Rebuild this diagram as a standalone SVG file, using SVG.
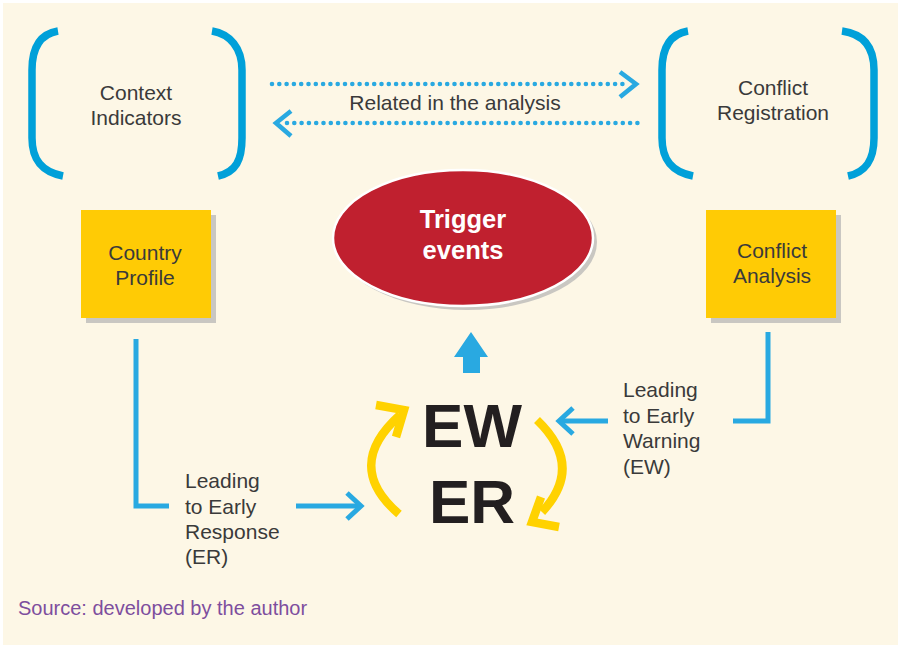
<svg xmlns="http://www.w3.org/2000/svg" width="901" height="648" viewBox="0 0 901 648">
<defs>
<style>
.lbl{font-family:"Liberation Sans",Arial,sans-serif;font-size:21px;fill:#3a3a3a;}
.ctr{text-anchor:middle;}
.brk{fill:none;stroke:#00a0d9;stroke-width:7.5;stroke-linecap:butt;}
.dot{fill:none;stroke:#29a9e1;stroke-width:4.6;stroke-linecap:round;stroke-dasharray:0 7.3;}
.chev{fill:none;stroke:#29a9e1;stroke-width:4.6;stroke-linecap:butt;stroke-linejoin:miter;}
.con{fill:none;stroke:#29a9e1;stroke-width:5;stroke-linecap:butt;stroke-linejoin:miter;}
.box{fill:#ffcb05;}
.shd{fill:#c9c7c2;}
.arc{fill:none;stroke:#ffd200;stroke-width:8.5;stroke-linecap:butt;stroke-linejoin:miter;}
.big{font-family:"Liberation Sans",Arial,sans-serif;font-weight:bold;font-size:62px;fill:#231f20;text-anchor:middle;}
</style>
</defs>
<rect x="0" y="0" width="901" height="648" fill="#ffffff"/>
<rect x="3" y="3" width="895" height="642" fill="#fdf7e6"/>

<g id="context-indicators">
<path class="brk" d="M58,31 C40,34 32,48 32,70 L32,138 C32,160 42,172 63,176"/>
<path class="brk" d="M212,31 C230,34 242,48 242,70 L242,138 C242,160 236,172 218,176"/>
<text class="lbl ctr" x="136" y="100">Context</text>
<text class="lbl ctr" x="136" y="125">Indicators</text>
</g>

<g id="conflict-registration">
<path class="brk" d="M688,31 C670,34 662,48 662,70 L662,138 C662,160 672,172 693,176"/>
<path class="brk" d="M842,31 C864,34 874,48 874,70 L874,138 C874,160 866,172 848,176"/>
<text class="lbl ctr" x="773" y="95">Conflict</text>
<text class="lbl ctr" x="773" y="120">Registration</text>
</g>

<g id="country-profile">
<rect class="shd" x="86" y="215" width="130" height="108"/>
<rect class="box" x="81" y="210" width="130" height="108"/>
<text class="lbl ctr" x="145" y="260">Country</text>
<text class="lbl ctr" x="145" y="285">Profile</text>
</g>

<g id="conflict-analysis">
<rect class="shd" x="711" y="215" width="130" height="108"/>
<rect class="box" x="706" y="210" width="130" height="108"/>
<text class="lbl ctr" x="772" y="258">Conflict</text>
<text class="lbl ctr" x="772" y="283">Analysis</text>
</g>

<g id="trigger-events">
<ellipse cx="467" cy="242" rx="130" ry="68" fill="#c9c7c2"/>
<ellipse cx="463" cy="238" rx="130" ry="68" fill="#c0202f" stroke="#ffffff" stroke-width="2.5"/>
<text x="463" y="228" text-anchor="middle" font-family="Liberation Sans, Arial, sans-serif" font-weight="bold" font-size="25.5" fill="#ffffff">Trigger</text>
<text x="463" y="259" text-anchor="middle" font-family="Liberation Sans, Arial, sans-serif" font-weight="bold" font-size="25.5" fill="#ffffff">events</text>
</g>

<g id="ew-er">
<text class="big" x="472" y="447">EW</text>
<text class="big" x="472" y="523">ER</text>
<path class="arc" d="M399,514 Q343,466 400,415"/>
<polyline class="arc" points="376,405 404,410 396,437"/>
<path class="arc" d="M537,420 Q585,466 542,512"/>
<polyline class="arc" points="541,497 532,522 559,527"/>
</g>

<g id="connectors">
<line class="dot" x1="272" y1="84" x2="626" y2="84"/>
<polyline class="chev" points="620,72 636,84 620,97"/>
<line class="dot" x1="287" y1="123" x2="640" y2="123"/>
<polyline class="chev" points="291,111 276,123 291,136"/>
<text class="lbl ctr" x="455" y="110">Related in the analysis</text>

<path d="M471,332 L488,357 L480,357 L480,373 L463,373 L463,357 L454,357 Z" fill="#29a9e1"/>

<polyline class="con" points="136,339 136,506 169,506"/>
<line class="con" x1="296" y1="506" x2="360" y2="506"/>
<polyline class="con" points="347,493 361,506 347,519"/>

<polyline class="con" points="768,332 768,421 733,421"/>
<line class="con" x1="608" y1="421" x2="559" y2="421"/>
<polyline class="con" points="573,408 559,421 573,434"/>
</g>

<g id="labels">
<text class="lbl" x="185" y="488">Leading</text>
<text class="lbl" x="185" y="514">to Early</text>
<text class="lbl" x="185" y="539">Response</text>
<text class="lbl" x="185" y="564">(ER)</text>
<text class="lbl" x="623" y="397">Leading</text>
<text class="lbl" x="623" y="423">to Early</text>
<text class="lbl" x="623" y="448">Warning</text>
<text class="lbl" x="623" y="474">(EW)</text>
<text x="18" y="615" font-family="Liberation Sans, Arial, sans-serif" font-size="20" fill="#7d4e9e">Source: developed by the author</text>
</g>
</svg>
